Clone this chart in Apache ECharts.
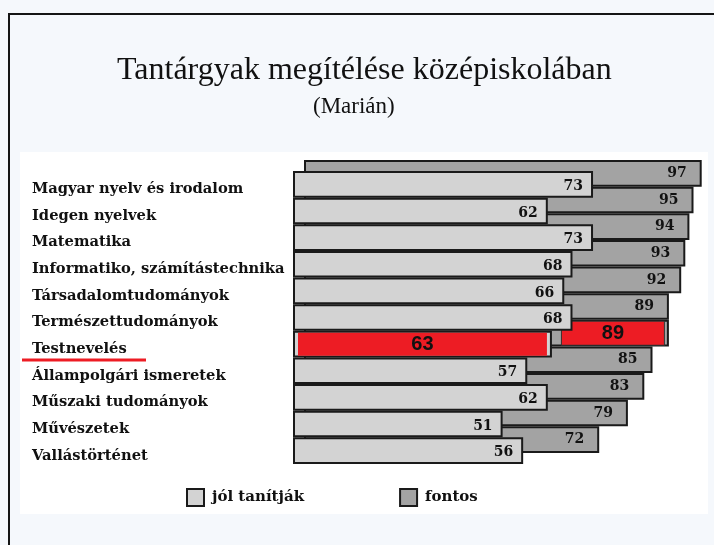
<!DOCTYPE html>
<html>
<head>
<meta charset="utf-8">
<script src="https://cdn.jsdelivr.net/npm/echarts@6/dist/echarts.min.js"></script>
<style>
  html, body { margin: 0; padding: 0; width: 714px; height: 545px; overflow: hidden; background: #f5f8fc; }
  #frame { position: absolute; left: 8px; top: 13px; right: 0; bottom: 0; border-left: 2px solid #151515; border-top: 2px solid #151515; }
  #panel { position: absolute; left: 20px; top: 152px; width: 688px; height: 362px; background: #fff; }
  #chart { position: absolute; left: 0; top: 0; width: 714px; height: 545px; }
</style>
</head>
<body>
<div id="frame"></div>
<div id="panel"></div>
<div id="chart"></div>
<script>
const subjects = [
  "Magyar nyelv és irodalom",
  "Idegen nyelvek",
  "Matematika",
  "Informatiko, számítástechnika",
  "Társadalomtudományok",
  "Természettudományok",
  "Testnevelés",
  "Állampolgári ismeretek",
  "Műszaki tudományok",
  "Művészetek",
  "Vallástörténet"
];
const jolTanitjak = [73, 62, 73, 68, 66, 68, 63, 57, 62, 51, 56];
const fontos = [97, 95, 94, 93, 92, 89, 89, 85, 83, 79, 72];
const highlight = "Testnevelés";

const xMax = 100;
const gridW = 411;
const serif = "DejaVu Serif";
const red = "#ed1c24";
const hi = subjects.indexOf(highlight);

// kiemelt sor: piros doboz a sávon belül
const lightData = jolTanitjak.map((v, i) => i !== hi ? v : {
  value: v,
  label: {
    position: "inside",
    offset: [0, 0],
    formatter: "{r|{c}}",
    rich: {
      r: {
        width: v / xMax * gridW - 10, height: 23, lineHeight: 23, align: "center",
        backgroundColor: red, color: "#111",
        fontFamily: "Liberation Sans", fontSize: 20, fontWeight: "bold"
      }
    }
  }
});

const darkData = fontos.map((v, i) => i !== hi ? v : {
  value: v,
  label: {
    distance: 5,
    formatter: "{r|{c}}",
    rich: {
      r: {
        width: 102, height: 23, lineHeight: 23, align: "center",
        backgroundColor: red, borderColor: "#333", borderWidth: 1, color: "#111",
        fontFamily: "Liberation Sans", fontSize: 20, fontWeight: "bold"
      }
    }
  }
});

const chart = echarts.init(document.getElementById("chart"));
chart.setOption({
  animation: false,
  title: [
    { text: "Tantárgyak megítélése középiskolában", left: 112, top: 50,
      textStyle: { fontFamily: "Liberation Serif", fontSize: 32, fontWeight: "normal", color: "#111" } },
    { text: "(Marián)", left: 308, top: 90,
      textStyle: { fontFamily: "Liberation Serif", fontSize: 23, fontWeight: "normal", color: "#111" } }
  ],
  legend: {
    data: ["jól tanítják", "fontos"],
    left: 186, top: 488, padding: 0,
    icon: "rect", itemWidth: 17, itemHeight: 17, itemGap: 95,
    textStyle: { fontFamily: serif, fontSize: 15, fontWeight: "bold", color: "#111", padding: [0, 0, 0, 3] }
  },
  grid: [
    { left: 293, top: 171, width: gridW, height: 293 },
    { left: 304, top: 160, width: gridW, height: 293 }
  ],
  xAxis: [
    { type: "value", gridIndex: 0, min: 0, max: xMax, show: false },
    { type: "value", gridIndex: 1, min: 0, max: xMax, show: false }
  ],
  yAxis: [
    { type: "category", gridIndex: 0, data: subjects, inverse: true,
      axisLine: { show: false }, axisTick: { show: false },
      axisLabel: { align: "left", margin: 261, verticalAlign: "top", lineHeight: 10,
        fontFamily: serif, fontSize: 14.7, fontWeight: "bold", color: "#111" } },
    { type: "category", gridIndex: 1, data: subjects, inverse: true, show: false }
  ],
  graphic: [
    { type: "line", shape: { x1: 22, y1: 360, x2: 146, y2: 360 },
      style: { stroke: red, lineWidth: 3 } }
  ],
  series: [
    {
      name: "jól tanítják", type: "bar", xAxisIndex: 0, yAxisIndex: 0, z: 3,
      data: lightData, barCategoryGap: "0%",
      itemStyle: { color: "#d3d3d3", borderColor: "#1a1a1a", borderWidth: 2 },
      label: { show: true, position: "insideRight", distance: 10, offset: [0, 2],
        fontFamily: serif, fontSize: 14, fontWeight: "bold", color: "#111" }
    },
    {
      name: "fontos", type: "bar", xAxisIndex: 1, yAxisIndex: 1, z: 1,
      data: darkData, barCategoryGap: "0%",
      itemStyle: { color: "#a3a3a3", borderColor: "#1a1a1a", borderWidth: 2 },
      label: { show: true, position: "insideRight", distance: 15,
        fontFamily: serif, fontSize: 14, fontWeight: "bold", color: "#111" }
    }
  ]
});
</script>
</body>
</html>
